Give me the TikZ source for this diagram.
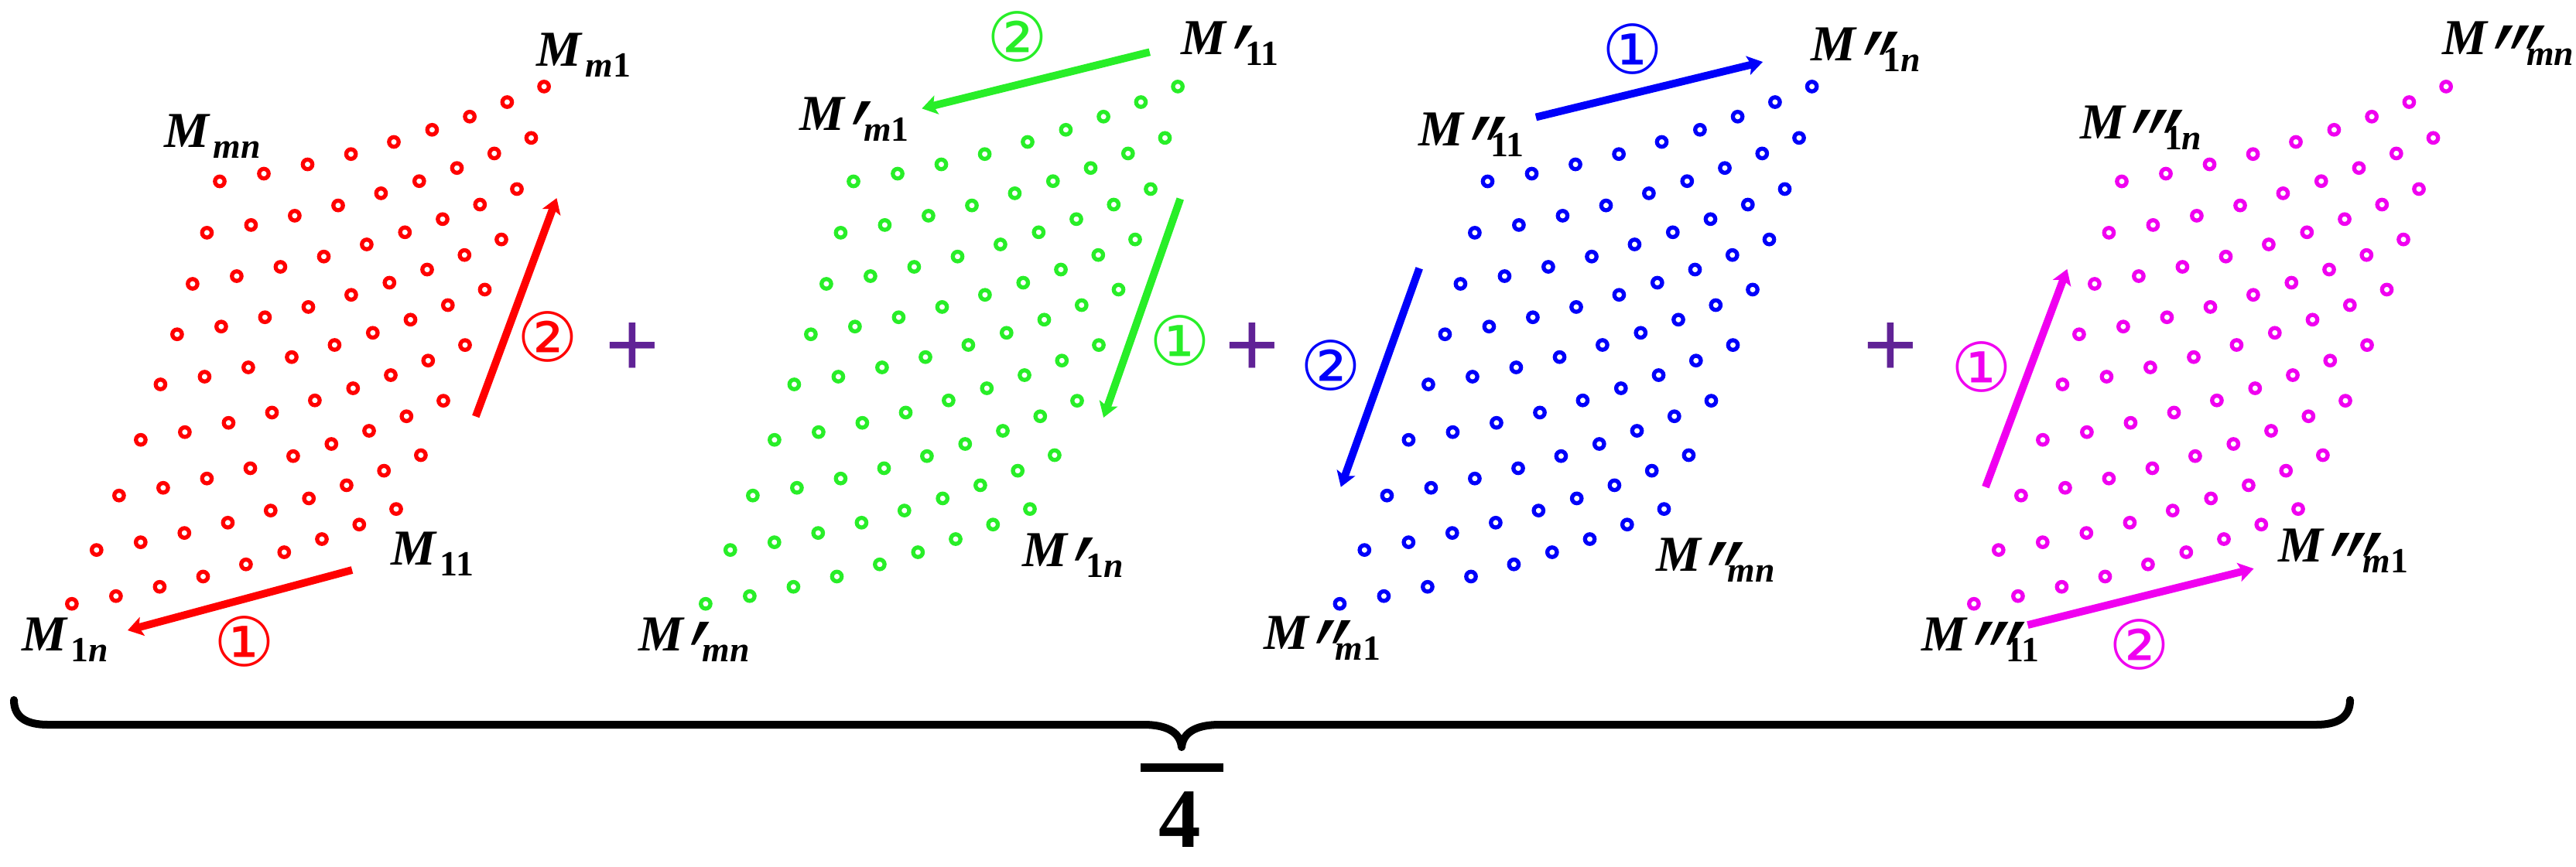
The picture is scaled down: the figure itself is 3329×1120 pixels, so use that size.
\documentclass[tikz,border=0pt]{standalone}
\usepackage{fontspec}
\usepackage{graphicx}
\setmainfont{Liberation Serif}
\newfontfamily\circfont{DejaVu Sans}
\newfontfamily\plusfont{Liberation Sans}
\newfontfamily\prfont{Liberation Serif}[FakeSlant=0.4]
\usetikzlibrary{arrows.meta}
\definecolor{rcol}{RGB}{255,0,0}
\definecolor{gcol}{RGB}{40,238,40}
\definecolor{bcol}{RGB}{0,0,250}
\definecolor{mcol}{RGB}{240,0,240}
\definecolor{plusc}{RGB}{96,34,150}
\newcommand{\pr}{\scalebox{1.5}[1.95]{\prfont\bfseries\upshape ′}}
\newcommand{\Mlab}[3]{\textbf{\textit{M}}\rlap{\kern-4pt\raisebox{-13.1pt}{#1}}\kern#2{\fontsize{13}{13}\selectfont\bfseries\raisebox{-4pt}{#3}}}
\def\AX{{0,57,113.5,169.6,225,274.4,323.1,371.4,419.1}}
\def\AY{{0,-10,-22,-35.3,-51,-66.7,-83.7,-102.5,-122.6}}
\def\BX{{0,31.9,61,89,114.5,136,156,174.5,191.1}}
\def\BY{{0,-69.6,-140,-212,-283.7,-348.5,-413.7,-479.8,-546.2}}
\begin{document}
\begin{tikzpicture}[x=0.01cm,y=-0.01cm,
  dotring/.style={line width=1.5pt},
  arr/.style={line width=2.8pt,-{Stealth[length=5.5pt,width=7pt,inset=1.2pt]}},
  lab/.style={inner sep=0pt,anchor=base west,font=\fontsize{18.5}{20}\selectfont},
  circ/.style={inner sep=0pt,font=\circfont\fontsize{25}{25}\selectfont},
  plussign/.style={inner sep=0pt,text=plusc,font=\plusfont\fontsize{34}{34}\selectfont}]
\useasboundingbox (0,0) rectangle (3329,1120);
% dot grids
\foreach \g/\c in {0/rcol,819/gcol,1638.5/bcol,2458/mcol}{
  \foreach \i in {0,...,8}{
    \foreach \j in {0,...,8}{
      \pgfmathsetmacro\px{\g+92.9+\AX[\i]+\BX[\j]}
      \pgfmathsetmacro\py{780.7+\AY[\i]+\BY[\j]}
      \draw[\c,dotring] (\px,\py) circle[radius=0.062cm];
    }
  }
}
% red labels
\node[lab] (rmn) at (211.7,190.8) {\Mlab{}{1pt}{\textit{mn}}};
\node[lab] (rm1) at (693,85) {\Mlab{}{1pt}{\textit{m}1}};
\node[lab] (r11) at (505,730.5) {\Mlab{}{1pt}{11}};
\node[lab] (r1n) at (28,841.9) {\Mlab{}{1pt}{1\textit{n}}};
% green labels
\node[lab] (g11) at (1526,70) {\Mlab{\pr}{6.5pt}{11}};
\node[lab] (gm1) at (1033,168.4) {\Mlab{\pr}{6.5pt}{\textit{m}1}};
\node[lab] (g1n) at (1320.4,732.4) {\Mlab{\pr}{6.5pt}{1\textit{n}}};
\node[lab] (gmn) at (824.4,841.8) {\Mlab{\pr}{6.5pt}{\textit{mn}}};
% blue labels
\node[lab] (b11) at (1833,188) {\Mlab{\pr\kern-2pt\pr}{9.4pt}{11}};
\node[lab] (b1n) at (2340,78.6) {\Mlab{\pr\kern-2pt\pr}{9.4pt}{1\textit{n}}};
\node[lab] (bmn) at (2139.4,738) {\Mlab{\pr\kern-2pt\pr}{9.4pt}{\textit{mn}}};
\node[lab] (bm1) at (1632.5,839) {\Mlab{\pr\kern-2pt\pr}{9.4pt}{\textit{m}1}};
% magenta labels
\node[lab] (mmn) at (3155.4,70.2) {\Mlab{\pr\kern-2pt\pr\kern-2pt\pr}{14pt}{\textit{mn}}};
\node[lab] (m1n) at (2687.4,179.6) {\Mlab{\pr\kern-2pt\pr\kern-2pt\pr}{14pt}{1\textit{n}}};
\node[lab] (mm1) at (2943.9,726.8) {\Mlab{\pr\kern-2pt\pr\kern-2pt\pr}{14pt}{\textit{m}1}};
\node[lab] (m11) at (2483,841.8) {\Mlab{\pr\kern-2pt\pr\kern-2pt\pr}{14pt}{11}};
% arrows
\coordinate (ra1s) at (455,737); \coordinate (ra1e) at (165,815);
\coordinate (ra2s) at (614.8,538.5); \coordinate (ra2e) at (719.4,256.1);
\coordinate (ga2s) at (1485.8,67.3); \coordinate (ga2e) at (1191.4,140.3);
\coordinate (ga1s) at (1525.3,257); \coordinate (ga1e) at (1426.1,539.9);
\coordinate (ba1s) at (1984.9,151.5); \coordinate (ba1e) at (2278,80);
\coordinate (ba2s) at (1834.2,346.8); \coordinate (ba2e) at (1732.8,629.7);
\coordinate (ma1s) at (2565.9,629.7); \coordinate (ma1e) at (2671.4,347.9);
\coordinate (ma2s) at (2620.4,808.1); \coordinate (ma2e) at (2912.5,735.2);
\draw[arr,rcol] (ra1s) -- (ra1e);
\draw[arr,rcol] (ra2s) -- (ra2e);
\draw[arr,gcol] (ga2s) -- (ga2e);
\draw[arr,gcol] (ga1s) -- (ga1e);
\draw[arr,bcol] (ba1s) -- (ba1e);
\draw[arr,bcol] (ba2s) -- (ba2e);
\draw[arr,mcol] (ma1s) -- (ma1e);
\draw[arr,mcol] (ma2s) -- (ma2e);
% circled numbers
\node[circ,text=rcol] (rc1) at (316,829) {①};
\node[circ,text=rcol] (rc2) at (708,435.5) {②};
\node[circ,text=gcol] (gc2) at (1315,47.7) {②};
\node[circ,text=gcol] (gc1) at (1525.3,440.5) {①};
\node[circ,text=bcol] (bc1) at (2110,63) {①};
\node[circ,text=bcol] (bc2) at (1720.3,472.5) {②};
\node[circ,text=mcol] (mc1) at (2561.2,474.2) {①};
\node[circ,text=mcol] (mc2) at (2764.4,833.4) {②};
% plus signs
\node[plussign] (p1) at (817,452) {+};
\node[plussign] (p2) at (1618,452) {+};
\node[plussign] (p3) at (2443,452) {+};
% brace, bar and 4
\draw[line width=2.85pt,line cap=round,line join=round]
  (18,905) .. controls (18,928) and (35,937) .. (62,937) -- (1478,937)
  .. controls (1505,937) and (1525,945) .. (1527,966)
  .. controls (1529,945) and (1549,937) .. (1576,937) -- (2993,937)
  .. controls (3020,937) and (3037,928) .. (3037,905);
\fill (1474,987) rectangle (1581,998);
\node[inner sep=0pt,font=\fontsize{31}{31}\selectfont\bfseries] (four) at (1525,1060) {4};
\end{tikzpicture}
\end{document}
